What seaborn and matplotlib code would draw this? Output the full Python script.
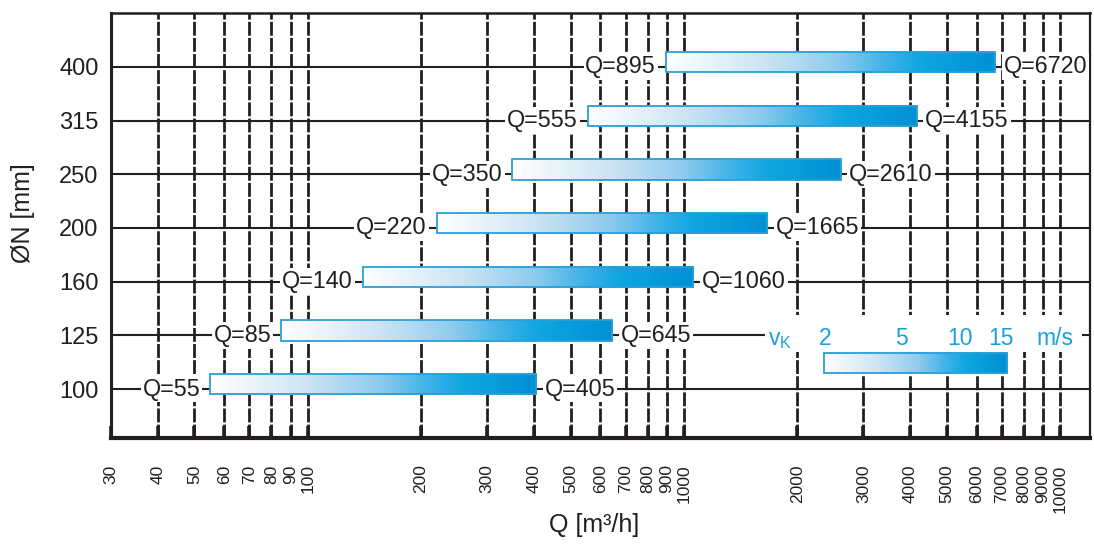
import numpy as np
import pandas as pd
import matplotlib
matplotlib.use("Agg")
import matplotlib.pyplot as plt
import seaborn as sns
from matplotlib.colors import LinearSegmentedColormap
from matplotlib.patches import Rectangle
from matplotlib.ticker import NullLocator

# ---------------- data ----------------
dn_labels = ["400", "315", "250", "200", "160", "125", "100"]
q_min = [895, 555, 350, 220, 140, 85, 55]
q_max = [6720, 4155, 2610, 1665, 1060, 645, 405]

x_ticks = [30, 40, 50, 60, 70, 80, 90, 100, 200, 300, 400, 500, 600, 700, 800, 900,
           1000, 2000, 3000, 4000, 5000, 6000, 7000, 8000, 9000, 10000]
x_tick_labels = [str(v) for v in x_ticks]

# velocity legend (v_K scale)
legend_texts = ["v$_\\mathrm{K}$", "2", "5", "10", "15", "m/s"]
legend_pos = [1804, 2376, 3794, 5429, 6965, 9710]
legend_bar_q = [2350, 7240]

# ---------------- style ----------------
sns.set_theme(style="white")
INK = "#231f20"
BLUE_TXT = "#1aa0dc"
plt.rcParams["font.family"] = ["Liberation Sans", "DejaVu Sans"]
plt.rcParams["mathtext.fontset"] = "custom"
plt.rcParams["mathtext.rm"] = "Liberation Sans"
plt.rcParams["mathtext.it"] = "Liberation Sans:italic"
for k in ["text.color", "axes.labelcolor", "xtick.color", "ytick.color"]:
    plt.rcParams[k] = INK

cmap = LinearSegmentedColormap.from_list(
    "flow",
    [(0.0, "#ffffff"), (0.3, "#cde4f3"), (0.52, "#8fcbee"), (0.68, "#3ab1e7"),
     (0.78, "#0ea6e0"), (1.0, "#0090d4")])
EDGE = "#2a9fd8"

fig = plt.figure(figsize=(10.94, 5.49), dpi=100)
ax = fig.add_axes([111 / 1094, 1 - 438 / 549, 979 / 1094, 425 / 549])

rows = list(range(len(dn_labels)))
df = pd.DataFrame({"row": rows, "Qmax": q_max})
sns.barplot(data=df, x="Qmax", y="row", orient="h", width=0.38, errorbar=None,
            native_scale=True, color="white", ax=ax)

bars = list(ax.patches)
shift = 0.09
for i, p in enumerate(bars):
    p.set_x(q_min[i])
    p.set_width(q_max[i] - q_min[i])
    p.set_y(p.get_y() - shift)
    p.set_facecolor("none")
    p.set_edgecolor(EDGE)
    p.set_linewidth(1.3)
    p.set_zorder(2.5)


def gradient(x0, x1, y0, y1):
    X = np.geomspace(x0, x1, 80)
    XX, YY = np.meshgrid(X, [y0, y1])
    C = np.tile(np.linspace(0, 1, 80), (2, 1))
    ax.pcolormesh(XX, YY, C, cmap=cmap, shading="gouraud", zorder=2,
                  vmin=0, vmax=1)


for i, p in enumerate(bars):
    gradient(q_min[i], q_max[i], p.get_y(), p.get_y() + p.get_height())

# value labels
for i in rows:
    box = dict(boxstyle="square,pad=0.08", fc="white", ec="none")
    ax.annotate(f"Q={q_min[i]}", xy=(q_min[i], i), xytext=(-7, 0),
                textcoords="offset points", ha="right", va="center",
                fontsize=16.8, bbox=box, zorder=4)
    ax.annotate(f"Q={q_max[i]}", xy=(q_max[i], i), xytext=(6, 0),
                textcoords="offset points", ha="left", va="center",
                fontsize=16.8, bbox=box, zorder=4)

# velocity legend
lb_y, lb_h = 5.515, 0.373
ax.add_patch(Rectangle((1645, 4.62), 11460 - 1645, 0.69, fc="white", ec="none",
                       zorder=1.5))
ax.barh(lb_y, legend_bar_q[1] - legend_bar_q[0], left=legend_bar_q[0],
        height=lb_h, facecolor="none", edgecolor=EDGE, linewidth=1.3, zorder=2.5)
gradient(legend_bar_q[0], legend_bar_q[1], lb_y - lb_h / 2, lb_y + lb_h / 2)
for t, xpos in zip(legend_texts, legend_pos):
    ax.text(xpos, 5.18, t, ha="center", va="baseline", fontsize=16.5,
            color=BLUE_TXT, zorder=4)

# axes
ax.set_xscale("log")
ax.set_xlim(30, 12000)
ax.set_ylim(6.913, -1.006)
ax.set_xticks(x_ticks)
ax.set_xticklabels(x_tick_labels, rotation=90)
ax.xaxis.set_minor_locator(NullLocator())
ax.set_yticks(rows)
ax.set_yticklabels(dn_labels)

ax.set_axisbelow(True)
ax.xaxis.grid(True, color=INK, linewidth=2.0, linestyle=(0, (5, 0.8)))
ax.yaxis.grid(True, color=INK, linewidth=1.5, linestyle="-")

ax.tick_params(axis="x", which="major", direction="in", length=9, width=2.6,
               color=INK, pad=19, labelsize=12.5, bottom=True, top=False)
ax.tick_params(axis="y", length=0, pad=9, labelsize=17, left=False)

for side, lw in [("left", 2.2), ("top", 1.8), ("right", 1.6), ("bottom", 3.0)]:
    ax.spines[side].set_visible(True)
    ax.spines[side].set_color(INK)
    ax.spines[side].set_linewidth(lw)

ax.set_xlabel("Q [m³/h]", fontsize=18)
ax.set_ylabel("ØN [mm]", fontsize=18)
ax.xaxis.set_label_coords(0.4934, -0.176)
ax.yaxis.set_label_coords(-0.0776, 0.53)

fig.savefig("out.png", dpi=100)
